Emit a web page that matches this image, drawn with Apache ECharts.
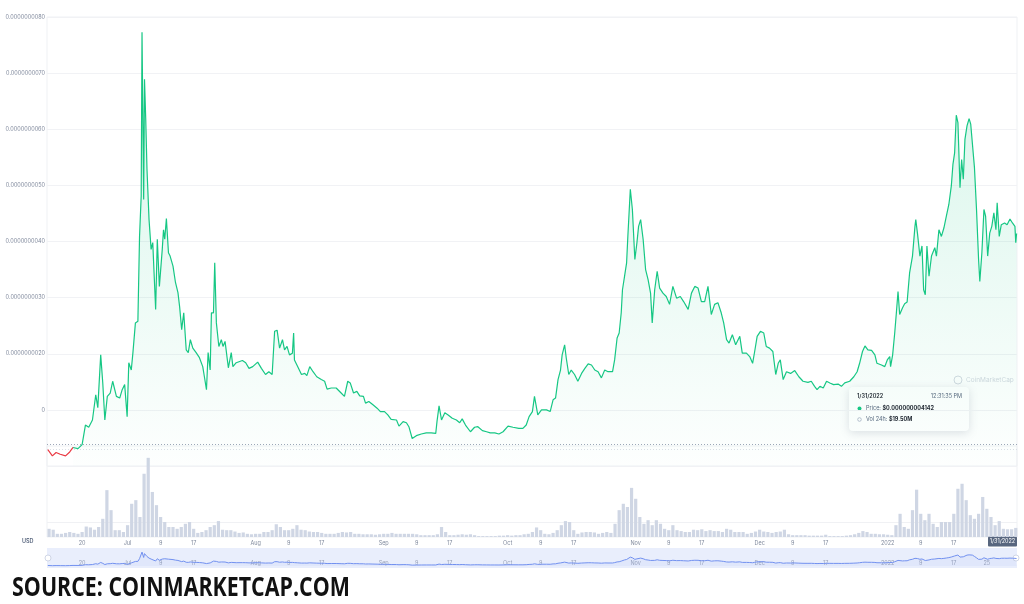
<!DOCTYPE html>
<html><head><meta charset="utf-8">
<script src="https://cdn.jsdelivr.net/npm/echarts@6/dist/echarts.min.js"></script>
<style>html,body{margin:0;padding:0;background:#fff}#c{width:1024px;height:604px}</style>
</head><body><div id="c"></div>
<script>
// ---------------- data ----------------
const baseDateUTC = Date.UTC(2021, 6, 1); // day 0 = 2021-07-01
const DAY = 86400000;

// price samples: day offset from 2021-07-01, price in units of 1e-9 USD
const priceDay = [-19.3,-18.2,-17.3,-16.3,-15.0,-14.0,-13.2,-12.0,-11.0,-10.2,-9.4,-8.5,-7.7,-7.2,-6.5,-6.0,-5.5,-4.9,-4.2,-3.6,-2.7,-1.9,-1.3,-0.7,-0.1,
0.3,0.9,1.3,1.9,2.5,2.9,3.3,3.5,3.9,4.1,4.4,4.7,5.2,5.7,6.1,6.8,7.2,7.7,8.4,8.7,9.0,9.4,9.9,10.3,11.0,11.6,12.2,12.6,13.1,13.6,14.2,14.7,15.2,15.8,16.6,17.4,18.2,18.6,19.1,19.5,20.0,20.3,20.8,21.1,21.5,22.1,22.7,23.1,23.6,24.4,25.1,25.5,26.3,27.8,28.6,29.4,30.3,
31.5,32.4,33.4,34.2,35.0,35.6,36.2,36.8,37.5,38.0,38.6,39.2,39.9,40.2,40.4,41.2,42.1,42.9,43.4,44.1,44.9,45.8,46.9,47.7,48.3,49.3,50.5,51.7,52.5,53.3,53.9,54.7,55.5,56.2,57.1,57.6,58.4,59.4,60.4,61.2,
62.2,63.0,63.8,65.1,65.7,66.7,67.5,68.1,68.9,69.9,71.1,72.3,73.5,74.6,74.9,75.4,76.0,76.8,77.6,78.6,79.6,80.4,81.0,81.8,83.0,84.0,84.8,85.9,86.9,87.8,88.9,89.9,90.9,
92.1,93.3,94.7,95.7,96.5,97.2,98.0,98.5,99.3,100.2,101.4,102.3,103.0,103.6,104.2,104.8,105.2,105.8,106.2,106.8,107.4,108.2,109.0,109.9,110.7,111.5,112.3,113.1,113.9,114.7,115.5,116.3,117.4,117.9,118.5,119.0,119.5,119.8,120.3,120.8,121.1,121.7,122.2,122.8,
123.3,123.7,124.2,124.8,125.4,126.0,126.6,127.0,127.6,128.2,128.8,129.6,130.4,131.2,132.0,132.9,133.8,134.6,135.7,136.5,137.3,138.1,138.9,139.7,140.5,141.3,142.1,142.9,143.7,144.3,145.0,145.6,146.4,147.2,148.2,148.8,149.8,150.6,151.3,151.8,152.4,
153.2,154.0,154.6,155.4,156.2,156.9,157.5,158.0,158.7,159.5,160.5,161.5,162.5,163.5,164.7,165.5,166.3,166.9,167.6,168.4,169.2,170.0,170.9,172.0,172.8,173.6,174.8,175.8,176.6,177.2,177.9,178.5,179.2,180.1,180.9,181.4,182.5,183.3,183.9,
184.5,184.7,185.2,185.7,186.1,186.5,186.9,187.6,188.1,188.7,189.3,190.0,190.6,190.8,191.2,191.8,192.3,192.7,193.1,193.5,194.0,194.6,195.4,195.8,196.4,197.0,197.6,198.2,198.8,199.4,199.8,200.2,200.6,201.0,201.5,201.9,202.3,202.7,203.2,203.7,204.1,204.5,
205.0,205.5,206.0,206.3,206.8,207.3,207.7,208.2,208.7,209.2,209.7,210.2,210.5,211.0,211.5,212.3,212.9,213.6,214.2,214.8,215.0,215.2];
const priceNanoUSD = [0.29,0.18,0.24,0.21,0.18,0.25,0.33,0.31,0.38,0.73,0.69,0.82,1.27,1.04,1.98,1.48,0.82,1.24,1.30,1.51,1.24,1.21,1.36,1.45,0.88,
1.84,1.71,2.02,2.55,2.58,4.09,4.81,7.73,4.75,6.89,6.18,5.29,4.39,3.86,3.98,2.79,4.04,3.20,3.86,4.21,4.04,4.41,3.80,3.74,3.56,3.27,3.09,2.84,2.43,2.73,2.07,2.02,2.25,2.10,2.02,1.93,1.77,1.59,1.36,2.02,1.71,2.73,2.73,3.62,2.55,2.13,2.25,2.13,2.22,1.75,2.02,1.77,1.84,1.88,1.84,1.74,1.77,
1.85,1.74,1.63,1.68,1.63,2.40,2.42,2.10,2.25,2.07,2.13,1.98,2.01,2.37,1.89,1.77,1.63,1.65,1.61,1.77,1.68,1.59,1.54,1.51,1.37,1.39,1.39,1.30,1.24,1.51,1.48,1.30,1.33,1.25,1.24,1.12,1.15,1.09,1.03,0.97,
0.97,0.91,0.83,0.82,0.71,0.79,0.77,0.70,0.49,0.54,0.57,0.59,0.59,0.58,0.79,1.07,0.82,0.95,0.91,0.85,0.82,0.77,0.84,0.73,0.61,0.69,0.70,0.63,0.61,0.59,0.59,0.57,0.61,
0.71,0.69,0.67,0.67,0.73,0.88,0.97,1.24,0.91,1.00,1.00,0.97,1.18,1.21,1.54,1.71,1.98,2.16,1.92,1.63,1.71,1.63,1.51,1.65,1.74,1.82,1.80,1.71,1.68,1.57,1.71,1.68,1.68,1.89,2.28,2.37,2.73,3.14,3.38,3.62,4.09,4.93,4.57,3.68,
3.98,4.27,4.39,4.04,3.50,3.32,3.08,2.55,3.14,3.47,3.17,3.08,3.02,2.88,3.20,2.99,3.02,2.93,2.79,3.08,3.20,3.17,2.93,2.93,3.20,2.70,2.88,2.91,2.73,2.55,2.25,2.19,2.34,2.16,2.31,2.01,2.01,1.95,1.83,2.04,2.31,
2.40,2.37,2.13,2.10,2.04,1.63,1.83,1.89,1.54,1.68,1.65,1.70,1.59,1.51,1.49,1.51,1.42,1.36,1.42,1.39,1.51,1.48,1.45,1.46,1.42,1.48,1.51,1.59,1.68,1.83,2.04,2.14,2.07,2.06,1.98,1.83,1.80,1.77,1.89,
1.95,1.77,1.98,2.37,2.73,3.11,2.70,2.82,2.89,2.92,3.44,3.74,4.27,4.39,4.15,3.74,3.92,3.14,3.05,3.92,3.38,3.74,3.89,3.74,4.21,4.09,4.24,4.45,4.66,4.99,5.38,5.58,6.25,6.12,4.96,5.46,5.11,5.82,6.06,6.19,6.09,6.06,
5.32,4.57,3.68,3.29,3.80,4.57,4.45,3.74,4.15,4.27,4.51,4.21,4.69,4.09,4.30,4.33,4.30,4.40,4.33,4.27,3.98,4.142];
// opening-price reference (1e-9 USD): line is red while below it at the start
const openPriceNanoUSD = 0.30;

// daily volume (millions USD), first bar on day -19 (2021-06-12)
const volumeStartDay = -19;
const volumeM = [18,16,7,7,9,11,9,7,11,23,21,16,22,40,103,59,15,15,11,
26,73,81,44,139,174,99,70,44,33,
22,22,18,22,29,33,18,9,11,15,
22,26,35,16,15,15,12,9,10,7,
6,7,7,11,11,15,28,22,15,15,
18,26,16,15,12,11,11,9,7,7,
7,9,11,10,11,7,7,6,6,6,
5,6,7,7,9,7,7,7,7,7,
6,4,4,4,4,6,22,11,4,4,
5,6,5,6,4,2,2,2,2,2,
3,3,4,3,4,4,6,
7,11,21,
15,7,6,9,15,26,35,33,15,7,
10,11,11,10,7,9,11,9,29,59,
73,66,108,84,44,29,37,26,37,29,
18,15,26,15,13,11,11,16,15,17,
13,15,13,13,11,18,16,11,11,11,
7,9,12,16,12,11,9,11,12,16,
6,4,4,4,4,3,3,3,3,5,
2,2,2,2,3,4,6,9,13,11,
7,7,6,6,5,4,26,51,22,18,
59,104,51,37,51,29,22,33,33,33,
51,106,117,81,48,40,51,88,62,44,
26,35,18,17,17,20];

// axis ticks
const xTickDay = [-11,0,8,16,31,39,47,62,70,78,92,100,108,123,131,139,153,161,169,184,192,200];
const xTickLabels = ['20','Jul','9','17','Aug','9','17','Sep','9','17','Oct','9','17','Nov','9','17','Dec','9','17','2022','9','17'];
const navTickDay = xTickDay.concat([208]);
const navTickLabels = xTickLabels.concat(['25']);
const yTickLabels = ['', '0', '0.0000000020', '0.0000000030', '0.0000000040', '0.0000000050', '0.0000000060', '0.0000000070', '0.0000000080'];

const axisStartDay = -19.5, axisEndDay = 215.3;
const lastDateLabel = '1/31/2022';
const lastTimeLabel = '12:31:35 PM';
const lastVolLabel = '$19.50M';

// ---------------- build ----------------
const t = d => baseDateUTC + d * DAY;
const priceData = priceDay.map((d, i) => [t(d), priceNanoUSD[i]]);
const firstUp = priceNanoUSD.findIndex(v => v >= openPriceNanoUSD);
const redData = priceData.slice(0, firstUp + 1);
const greenData = priceData.slice(firstUp);
const volData = volumeM.map((v, i) => [t(volumeStartDay + i), v]);
const xMin = t(axisStartDay), xMax = t(axisEndDay);
function tickFormatter(days, labels) {
  return function (val) {
    for (let i = 0; i < days.length; i++) {
      if (Math.abs(t(days[i]) - val) < DAY / 2) return labels[i];
    }
    return '';
  };
}
const FONT = 'Inter, "Noto Sans", sans-serif';
const lastPrice = priceNanoUSD[priceNanoUSD.length - 1];
const lastPriceText = '$' + (lastPrice * 1e-9).toFixed(12);

const chart = echarts.init(document.getElementById('c'), null, { renderer: 'canvas' });
chart.setOption({
  animation: false,
  backgroundColor: '#fff',
  textStyle: { fontFamily: FONT },
  grid: [
    { left: 47, right: 7, top: 17, bottom: 138, show: true, borderColor: '#eff1f4', borderWidth: 1 },
    { left: 47, right: 7, top: 446, bottom: 67, show: true, borderColor: '#eff1f4', borderWidth: 1 },
    { left: 47, right: 7, top: 548, bottom: 36, show: true, backgroundColor: '#e9eefc', borderWidth: 0 }
  ],
  xAxis: [
    { type: 'value', gridIndex: 0, min: xMin, max: xMax, show: false, splitLine: { show: false } },
    { type: 'value', gridIndex: 1, min: xMin, max: xMax,
      axisLine: { show: false }, axisTick: { show: false }, splitLine: { show: false },
      axisLabel: { customValues: xTickDay.map(t), formatter: tickFormatter(xTickDay, xTickLabels),
        fontSize: 5.5, color: '#808a9d', margin: 3, hideOverlap: false } },
    { type: 'value', gridIndex: 2, min: xMin, max: xMax,
      axisLine: { show: false }, axisTick: { show: false }, splitLine: { show: false },
      axisLabel: { customValues: navTickDay.map(t), formatter: tickFormatter(navTickDay, navTickLabels),
        inside: true, fontSize: 5.5, color: '#9aa4ba', margin: 2, hideOverlap: false } }
  ],
  yAxis: [
    { type: 'value', gridIndex: 0, min: 0, max: 8, interval: 1,
      axisLine: { show: false }, axisTick: { show: false },
      splitLine: { lineStyle: { color: '#f1f2f5', width: 1 } },
      axisLabel: { formatter: v => yTickLabels[Math.round(v)] || '', fontSize: 5.5, color: '#808a9d', margin: 2 } },
    { type: 'value', gridIndex: 1, min: 0, max: 200, show: false, splitLine: { show: false } },
    { type: 'value', gridIndex: 2, min: -1.1, max: 10, show: false, splitLine: { show: false } }
  ],
  series: [
    { type: 'line', xAxisIndex: 0, yAxisIndex: 0, data: greenData, showSymbol: false, z: 5,
      lineStyle: { width: 1.2, color: '#16c784' }, itemStyle: { color: '#16c784' },
      areaStyle: { color: { type: 'linear', x: 0, y: 0, x2: 0, y2: 1,
        colorStops: [{ offset: 0, color: 'rgba(22,199,132,0.26)' }, { offset: 1, color: 'rgba(22,199,132,0.01)' }] } },
      markLine: { silent: true, symbol: 'none', label: { show: false },
        data: [
          { yAxis: 0.38, lineStyle: { type: [1, 2], color: '#9ea7b8', width: 1 } },
          { yAxis: openPriceNanoUSD, lineStyle: { type: [1, 2], color: '#dadee6', width: 1 } }
        ] } },
    { type: 'line', xAxisIndex: 0, yAxisIndex: 0, data: redData, showSymbol: false, z: 5,
      lineStyle: { width: 1.2, color: '#ea3943' }, itemStyle: { color: '#ea3943' } },
    { type: 'bar', xAxisIndex: 1, yAxisIndex: 1, data: volData, barWidth: 3.2,
      itemStyle: { color: '#cfd6e4' } },
    { type: 'line', xAxisIndex: 2, yAxisIndex: 2, data: priceData, showSymbol: false,
      lineStyle: { width: 1, color: '#7291f0' }, itemStyle: { color: '#7291f0' },
      areaStyle: { color: 'rgba(114,145,240,0.10)' } }
  ],
  graphic: [
    { type: 'line', shape: { x1: 47, y1: 522.5, x2: 1017, y2: 522.5 }, style: { stroke: '#f0f1f4', lineWidth: 1 }, z: -1 },
    { type: 'circle', shape: { cx: 958, cy: 380, r: 4 }, style: { fill: 'none', stroke: '#d5dae2', lineWidth: 1 } },
    { type: 'text', x: 966, y: 380, style: { text: 'CoinMarketCap', fontSize: 6.5, fontFamily: FONT, fill: '#d3d8e0', verticalAlign: 'middle' } },
    { type: 'rect', shape: { x: 849, y: 387, width: 120, height: 44, r: 4 },
      style: { fill: '#fff', shadowBlur: 10, shadowColor: 'rgba(88,102,126,0.20)', shadowOffsetY: 2 } },
    { type: 'text', x: 857, y: 396, style: { text: lastDateLabel, fontSize: 5.5, fontWeight: 600, fontFamily: FONT, fill: '#222531', verticalAlign: 'middle' } },
    { type: 'text', x: 962, y: 396, style: { text: lastTimeLabel, fontSize: 5.5, fontFamily: FONT, fill: '#58667e', align: 'right', verticalAlign: 'middle' } },
    { type: 'circle', shape: { cx: 859.5, cy: 408.5, r: 2 }, style: { fill: '#16c784' } },
    { type: 'text', x: 866, y: 408.5, style: { text: '{a|Price: }{b|' + lastPriceText + '}', verticalAlign: 'middle',
        rich: { a: { fontSize: 5.5, fontFamily: FONT, fill: '#58667e' }, b: { fontSize: 5.5, fontFamily: FONT, fontWeight: 700, fill: '#222531' } } } },
    { type: 'circle', shape: { cx: 859.5, cy: 419.5, r: 1.8 }, style: { fill: 'none', stroke: '#a6b0c3', lineWidth: 0.8 } },
    { type: 'text', x: 866, y: 419.5, style: { text: '{a|Vol 24h: }{b|' + lastVolLabel + '}', verticalAlign: 'middle',
        rich: { a: { fontSize: 5.5, fontFamily: FONT, fill: '#58667e' }, b: { fontSize: 5.5, fontFamily: FONT, fontWeight: 700, fill: '#222531' } } } },
    { type: 'text', x: 22, y: 541.5, style: { text: 'USD', fontSize: 5.5, fontWeight: 600, fontFamily: FONT, fill: '#58667e', verticalAlign: 'middle' } },
    { type: 'rect', shape: { x: 988, y: 536.5, width: 29, height: 10, r: 1 }, style: { fill: '#58667e' } },
    { type: 'text', x: 1002.5, y: 541.5, style: { text: lastDateLabel, fontSize: 5.5, fontFamily: FONT, fill: '#fff', align: 'center', verticalAlign: 'middle' } },
    { type: 'circle', shape: { cx: 48, cy: 558, r: 3 }, style: { fill: '#fff', stroke: '#c5cde0', lineWidth: 0.8 } },
    { type: 'circle', shape: { cx: 1016, cy: 558, r: 3 }, style: { fill: '#fff', stroke: '#c5cde0', lineWidth: 0.8 } },
    { type: 'text', x: 10, y: 588, scaleX: 0.792, originX: 10, originY: 588,
      style: { text: 'SOURCE: COINMARKETCAP.COM', fontSize: 27, fontWeight: 'bold', fontFamily: '"Open Sans", sans-serif', fill: '#111', verticalAlign: 'middle' } }
  ]
});
</script>
</body></html>
